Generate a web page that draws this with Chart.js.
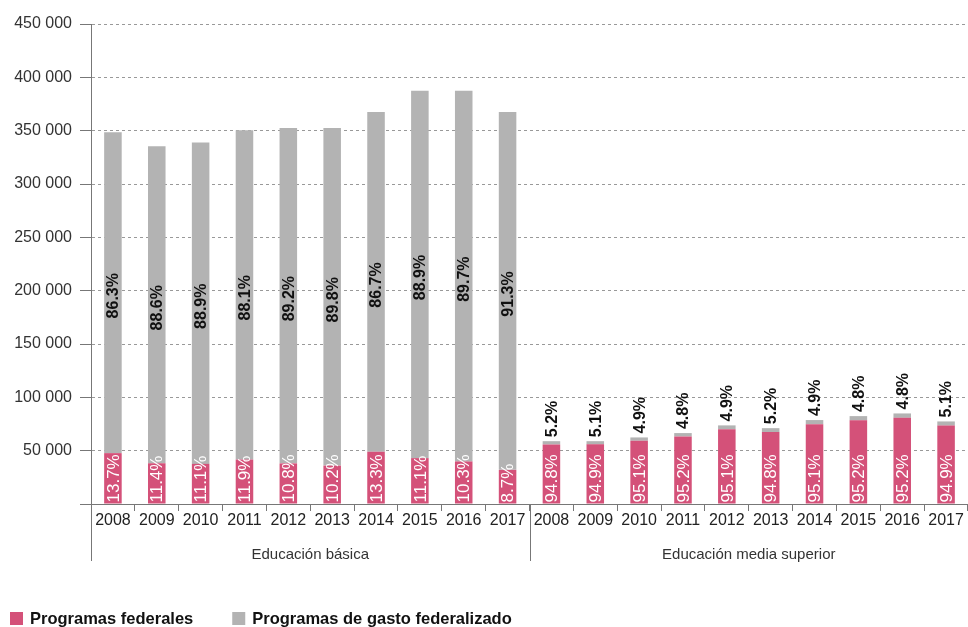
<!DOCTYPE html>
<html>
<head>
    <title>Programas federales y gasto federalizado</title>
    <script src="https://cdn.jsdelivr.net/npm/chart.js"></script>
    <style>
        body { margin: 0; background: #fff; }
        #wrap { width: 968px; height: 627px; }
    </style>
</head>
<body>
<div id="wrap"><canvas id="chart"></canvas></div>
<script>
    var years = ['2008', '2009', '2010', '2011', '2012', '2013', '2014', '2015', '2016', '2017'];
    var groups = ['Educación básica', 'Educación media superior'];

    // millones de pesos, básica (10) then media superior (10)
    var federales = [47700, 38200, 37600, 41700, 38100, 36000, 48900, 43000, 39900, 32000,
                     55800, 55900, 59300, 63300, 70100, 67400, 74800, 78400, 80800, 73500];
    var federalizado = [300800, 297300, 301300, 308800, 314500, 316600, 318500, 344400, 347500, 335400,
                        3100, 3000, 3100, 3200, 3600, 3700, 3900, 4000, 4100, 3900];

    var pctFederales = [13.7, 11.4, 11.1, 11.9, 10.8, 10.2, 13.3, 11.1, 10.3, 8.7,
                        94.8, 94.9, 95.1, 95.2, 95.1, 94.8, 95.1, 95.2, 95.2, 94.9];
    var pctFederalizado = [86.3, 88.6, 88.9, 88.1, 89.2, 89.8, 86.7, 88.9, 89.7, 91.3,
                           5.2, 5.1, 4.9, 4.8, 4.9, 5.2, 4.9, 4.8, 4.8, 5.1];

    var FONT = "'Liberation Sans', Arial, sans-serif";
    var PINK = '#d45179';
    var GREY = '#b3b3b3';

    function vText(ctx, text, x, y, align, color, font) {
        ctx.save();
        ctx.translate(x, y);
        ctx.rotate(-Math.PI / 2);
        ctx.textAlign = align;
        ctx.textBaseline = 'middle';
        ctx.fillStyle = color;
        ctx.font = font;
        ctx.fillText(text, 0, 1);
        ctx.restore();
    }

    // percentage labels on the bars
    var pctLabels = {
        id: 'pctLabels',
        afterDatasetsDraw: function(chart) {
            var ctx = chart.ctx;
            chart.getDatasetMeta(0).data.forEach(function(bar, i) {
                vText(ctx, pctFederales[i].toFixed(1) + '%', bar.x, bar.base - 1, 'left', '#fff', '17px ' + FONT);
            });
            chart.getDatasetMeta(1).data.forEach(function(bar, i) {
                var txt = pctFederalizado[i].toFixed(1) + '%';
                if (bar.base - bar.y > 60) {
                    vText(ctx, txt, bar.x, (bar.y + bar.base) / 2 + 3, 'center', '#111', 'bold 16px ' + FONT);
                } else {
                    vText(ctx, txt, bar.x, bar.y - 4, 'left', '#111', 'bold 16px ' + FONT);
                }
            });
        }
    };

    // group labels, separators and legend
    var groupAxis = {
        id: 'groupAxis',
        afterDraw: function(chart) {
            var ctx = chart.ctx;
            var x = chart.scales.x;
            var bottom = chart.chartArea.bottom;
            var step = x.getPixelForValue(1) - x.getPixelForValue(0);
            ctx.save();
            ctx.strokeStyle = '#777';
            ctx.lineWidth = 1;
            ctx.fillStyle = '#333';
            ctx.font = '15px ' + FONT;
            ctx.textAlign = 'center';
            ctx.textBaseline = 'middle';
            groups.forEach(function(g, k) {
                var first = k * years.length;
                var last = first + years.length - 1;
                var left = Math.round(x.getPixelForValue(first) - step / 2) + 0.5;
                ctx.beginPath();
                ctx.moveTo(left, bottom);
                ctx.lineTo(left, bottom + 57);
                ctx.stroke();
                ctx.fillText(g, (x.getPixelForValue(first) + x.getPixelForValue(last)) / 2, bottom + 51);
            });

            var lx = 10, ly = 612;
            ctx.textAlign = 'left';
            ctx.font = 'bold 16.5px ' + FONT;
            chart.data.datasets.forEach(function(ds) {
                ctx.fillStyle = ds.backgroundColor;
                ctx.fillRect(lx, ly, 13, 13);
                ctx.fillStyle = '#111';
                ctx.fillText(ds.label, lx + 20, ly + 7);
                lx += 20 + ctx.measureText(ds.label).width + 39;
            });
            ctx.restore();
        }
    };

    var ctx = document.getElementById('chart').getContext('2d');
    var chart = new Chart(ctx, {
        type: 'bar',
        data: {
            labels: years.concat(years),
            datasets: [{
                label: 'Programas federales',
                data: federales,
                backgroundColor: PINK,
                barPercentage: 0.4,
                categoryPercentage: 1
            },
            {
                label: 'Programas de gasto federalizado',
                data: federalizado,
                backgroundColor: GREY,
                barPercentage: 0.4,
                categoryPercentage: 1
            }]
        },
        plugins: [pctLabels, groupAxis],
        options: {
            responsive: true,
            maintainAspectRatio: false,
            animation: false,
            layout: { padding: { top: 24, right: 0, bottom: 0, left: 0 } },
            scales: {
                x: {
                    stacked: true,
                    afterFit: function(s) { s.height = 123; },
                    grid: {
                        offset: true,
                        drawOnChartArea: false,
                        tickLength: 7,
                        color: '#777'
                    },
                    border: { color: '#777' },
                    ticks: {
                        padding: 0,
                        color: '#222',
                        font: { family: FONT, size: 16 },
                        maxRotation: 0,
                        autoSkip: false
                    }
                },
                y: {
                    stacked: true,
                    min: 0,
                    max: 450000,
                    afterFit: function(s) { s.width = 91; },
                    grid: {
                        color: '#999',
                        tickColor: '#777',
                        tickLength: 11,
                        tickBorderDash: []
                    },
                    border: { color: '#777', dash: [3, 3] },
                    ticks: {
                        stepSize: 50000,
                        padding: 8,
                        color: '#333',
                        font: { family: FONT, size: 16 },
                        callback: function(v) {
                            if (v === 0) return '';
                            return String(v).replace(/(\d)(?=(\d{3})+$)/g, '$1 ');
                        }
                    }
                }
            },
            plugins: {
                legend: { display: false },
                tooltip: { enabled: false }
            }
        }
    });
</script>
</body>
</html>
